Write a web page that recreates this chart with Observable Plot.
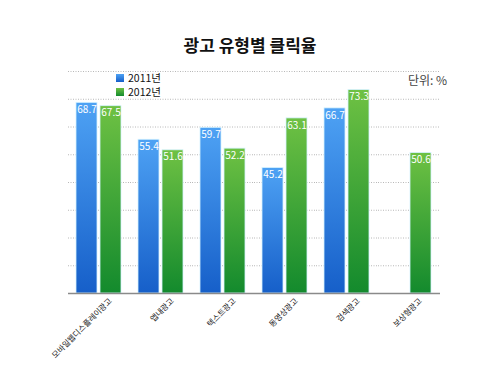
<!DOCTYPE html>
<html>
<head>
<meta charset="utf-8">
<script src="https://cdn.jsdelivr.net/npm/d3@7"></script>
<script src="https://cdn.jsdelivr.net/npm/@observablehq/plot@0.6"></script>
<style>
  html, body { margin: 0; padding: 0; background: #fff; }
  #wrap { position: relative; width: 500px; height: 375px; font-family: "Noto Sans CJK KR", "Noto Sans", sans-serif; }
  #title { position: absolute; left: 0; width: 500px; top: 32px; text-align: center; font-size: 17px; font-weight: bold; color: #111; }
  .leg { position: absolute; font-size: 10.5px; color: #111; line-height: 12px; display: flex; align-items: center; }
  .sw { width: 8px; height: 8px; margin-right: 4px; }
  #unit { position: absolute; left: 408px; top: 71px; font-size: 12px; color: #444; }
  #chart { position: absolute; left: 0; top: 0; }
</style>
</head>
<body>
<div id="wrap">
  <div id="chart"></div>
  <div id="title"></div>
  <div id="legend"></div>
  <div id="unit"></div>
</div>
<script>
const titleText = "광고 유형별 클릭율";
const unitText = "단위: %";
const categories = ["모바일웹디스플레이광고", "앱내광고", "텍스트광고", "동영상광고", "검색광고", "보상형광고"];
const years = ["2011", "2012"];
const yearLabels = ["2011년", "2012년"];
const values2011 = [68.7, 55.4, 59.7, 45.2, 66.7, null];
const values2012 = [67.5, 51.6, 52.2, 63.1, 73.3, 50.6];
const gridTicks = [10, 20, 30, 40, 50, 60, 70, 80];

const rows = [];
categories.forEach((c, i) => {
  if (values2011[i] != null) rows.push({category: c, year: years[0], value: values2011[i]});
  if (values2012[i] != null) rows.push({category: c, year: years[1], value: values2012[i]});
});

const gradients = {
  "2011": {id: "g2011", top: "#4ea2f4", bottom: "#165fc9"},
  "2012": {id: "g2012", top: "#6ec143", bottom: "#138a2d"}
};

const chart = Plot.plot({
  width: 500,
  height: 375,
  marginTop: 71,
  marginLeft: 66,
  marginRight: 58,
  marginBottom: 82,
  style: {fontFamily: "'Noto Sans CJK KR', 'Noto Sans', sans-serif", fontSize: "10px", background: "transparent"},
  fx: {domain: categories, padding: 0, axis: null},
  x: {domain: years, paddingInner: 0.12, paddingOuter: 0.31, axis: null},
  y: {domain: [0, 80], axis: null},
  color: {domain: years, range: years.map(y => `url(#${gradients[y].id})`)},
  marks: [
    Plot.ruleY(gridTicks, {stroke: "#b8b8b8", strokeDasharray: "1,1.5", strokeWidth: 1}),
    Plot.barY(rows, {fx: "category", x: "year", y: "value", fill: "year", stroke: "#d4f2ff", strokeWidth: 0.8}),
    Plot.text(rows, {fx: "category", x: "year", y: "value", text: d => d.value.toFixed(1), fill: "white", lineAnchor: "top", dy: 3, fontSize: 10}),
    Plot.ruleY([0], {stroke: "#8a8a8a", strokeWidth: 1.5}),
    Plot.text(categories, {fx: d => d, text: d => d, frameAnchor: "bottom", textAnchor: "end", rotate: -45, dx: 13, dy: 8, fontSize: 8, fill: "#1a1a1a"})
  ]
});

const svg = d3.select(chart);
const defs = svg.insert("defs", ":first-child");
years.forEach(y => {
  const g = gradients[y];
  const lg = defs.append("linearGradient").attr("id", g.id).attr("x1", 0).attr("y1", 0).attr("x2", 0).attr("y2", 1);
  lg.append("stop").attr("offset", "0%").attr("stop-color", g.top);
  lg.append("stop").attr("offset", "100%").attr("stop-color", g.bottom);
});

document.getElementById("chart").appendChild(chart);
document.getElementById("title").textContent = titleText;
document.getElementById("unit").textContent = unitText;

const legend = document.getElementById("legend");
years.forEach((y, i) => {
  const item = document.createElement("div");
  item.className = "leg";
  item.style.left = "116px";
  item.style.top = (72 + i * 13.5) + "px";
  const sw = document.createElement("div");
  sw.className = "sw";
  sw.style.background = `linear-gradient(${gradients[y].top}, ${gradients[y].bottom})`;
  const tx = document.createElement("span");
  tx.textContent = yearLabels[i];
  item.appendChild(sw);
  item.appendChild(tx);
  legend.appendChild(item);
});
</script>
</body>
</html>
